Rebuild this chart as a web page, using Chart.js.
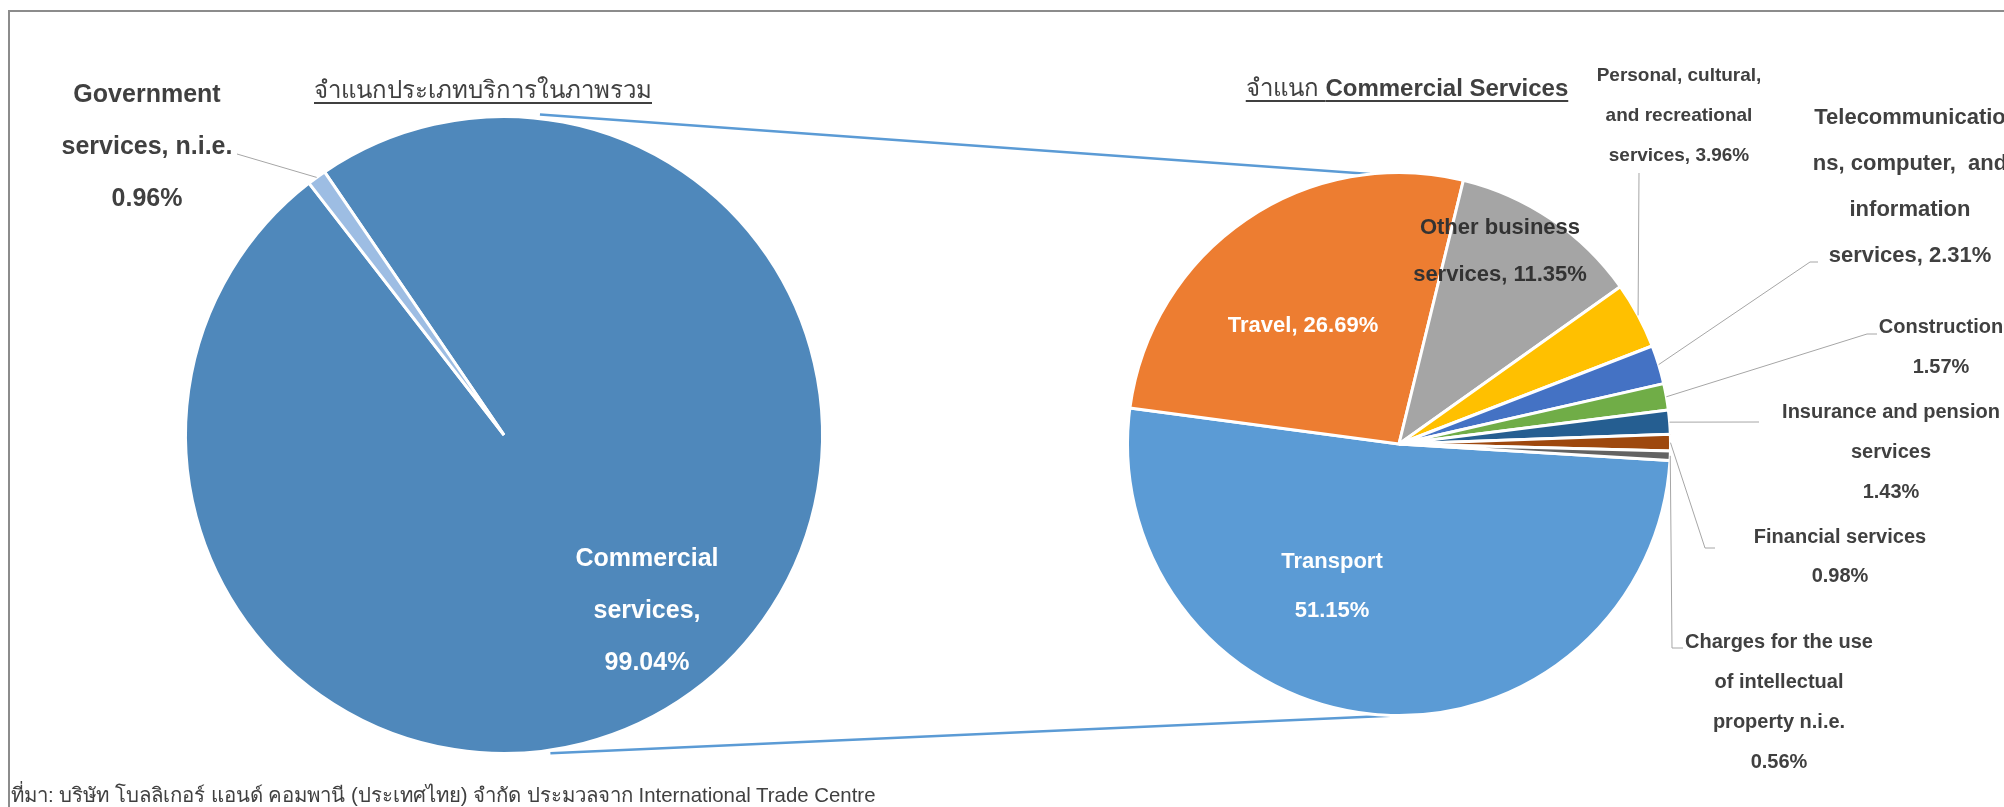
<!DOCTYPE html>
<html>
<head>
<meta charset="utf-8">
<script src="https://cdn.jsdelivr.net/npm/chart.js@4.4.1/dist/chart.umd.min.js"></script>
<style>
  html, body { margin: 0; padding: 0; background: #fff; }
  #wrap { position: relative; width: 2004px; height: 807px; overflow: hidden;
          font-family: "Liberation Sans", Arial, sans-serif; color: #404040; }
  #wrap canvas { position: absolute; left: 0; top: 0; }
  .frame { position: absolute; left: 8px; top: 10px; width: 2100px; height: 900px;
           border-left: 2px solid #8c8c8c; border-top: 2px solid #8c8c8c; }
  .title { position: absolute; transform: translateX(-50%); white-space: nowrap;
           text-decoration: underline; text-underline-offset: 4px; font-size: 24px; line-height: 28px; }
  .source { position: absolute; left: 11px; top: 783px; font-size: 20.4px; line-height: 24px; white-space: nowrap; }
</style>
</head>
<body>
<div id="wrap">
  <div class="frame"></div>
  <canvas id="overall" width="2004" height="807"></canvas>
  <canvas id="commercial" width="2004" height="807"></canvas>
  <div class="title" style="left:483px;top:76px">จำแนกประเภทบริการในภาพรวม</div>
  <div class="title" style="left:1407px;top:74px">จำแนก <b>Commercial Services</b></div>
  <div class="source">ที่มา: บริษัท โบลลิเกอร์ แอนด์ คอมพานี (ประเทศไทย) จำกัด ประมวลจาก International Trade Centre</div>
</div>
<script>
// overall split of services
const overallCats = ['Commercial services', 'Government services, n.i.e.'];
const overallShares = [99.04, 0.96];
const overallColors = ['#4f88bb', '#9dbde3'];

// breakdown of commercial services
const commercialCats = ['Transport', 'Travel', 'Other business services',
  'Personal, cultural, and recreational services',
  'Telecommunications, computer, and information services',
  'Construction', 'Insurance and pension services', 'Financial services',
  'Charges for the use of intellectual property n.i.e.'];
const commercialShares = [51.15, 26.69, 11.35, 3.96, 2.31, 1.57, 1.43, 0.98, 0.56];
const commercialColors = ['#5b9bd5', '#ed7d31', '#a5a5a5', '#ffc000', '#4472c4',
  '#70ad47', '#255e91', '#9e480e', '#636363'];

// draws the text of each slice, plus a leader line when the label sits outside
const sliceLabels = {
  id: 'sliceLabels',
  afterDatasetsDraw(chart, args, opts) {
    const ctx = chart.ctx;
    const arcs = chart.getDatasetMeta(0).data;
    const values = chart.data.datasets[0].data;
    opts.items.forEach((item, i) => {
      const arc = arcs[i];
      const cx = arc.x, cy = arc.y;
      if (item.leader) {
        const mid = (arc.startAngle + arc.endAngle) / 2;
        ctx.save();
        ctx.strokeStyle = '#a6a6a6';
        ctx.lineWidth = 1;
        ctx.beginPath();
        ctx.moveTo(cx + arc.outerRadius * Math.cos(mid), cy + arc.outerRadius * Math.sin(mid));
        item.leader.forEach(p => ctx.lineTo(cx + p[0], cy + p[1]));
        ctx.stroke();
        ctx.restore();
      }
      ctx.save();
      ctx.font = 'bold ' + item.size + 'px "Liberation Sans", Arial, sans-serif';
      ctx.fillStyle = item.color;
      ctx.textAlign = 'center';
      ctx.textBaseline = 'middle';
      item.lines.forEach((line, k) => {
        const txt = line.replace('{v}', values[i].toFixed(2) + '%');
        ctx.fillText(txt, cx + item.at[0], cy + item.at[1] + k * item.lh);
      });
      ctx.restore();
    });
  }
};

// blue lines joining the two pies
const connectors = {
  id: 'connectors',
  beforeDatasetsDraw(chart) {
    const a = overallChart.getDatasetMeta(0).data[0];
    const b = chart.getDatasetMeta(0).data[0];
    const pt = (arc, deg, extra) => {
      const t = (deg - 90) * Math.PI / 180;
      const r = arc.outerRadius + extra;
      return [arc.x + r * Math.cos(t), arc.y + r * Math.sin(t)];
    };
    const ctx = chart.ctx;
    ctx.save();
    ctx.strokeStyle = '#5b9bd5';
    ctx.lineWidth = 2.5;
    [[pt(a, 6.4, 4), pt(b, -6.1, 0)], [pt(a, 171.7, 3), pt(b, 180.6, 0)]].forEach(s => {
      ctx.beginPath();
      ctx.moveTo(s[0][0], s[0][1]);
      ctx.lineTo(s[1][0], s[1][1]);
      ctx.stroke();
    });
    ctx.restore();
  }
};

Chart.defaults.font.family = '"Liberation Sans", Arial, sans-serif';

const overallChart = new Chart(document.getElementById('overall'), {
  type: 'pie',
  data: {
    labels: overallCats,
    datasets: [{ data: overallShares, backgroundColor: overallColors, borderColor: '#fff', borderWidth: 3 }]
  },
  options: {
    responsive: false, animation: false, devicePixelRatio: 1, rotation: 325.7,
    layout: { padding: { left: 184, top: 115, right: 1180, bottom: 52 } },
    plugins: {
      legend: { display: false }, tooltip: { enabled: false },
      sliceLabels: { items: [
        { lines: ['Commercial', 'services,', '{v}'], at: [143, 124], lh: 52, size: 25, color: '#fff' },
        { lines: ['Government', 'services, n.i.e.', '{v}'], at: [-357, -340], lh: 52, size: 25, color: '#404040',
          leader: [[-267, -281]] }
      ] }
    }
  },
  plugins: [sliceLabels]
});

const commercialChart = new Chart(document.getElementById('commercial'), {
  type: 'pie',
  data: {
    labels: commercialCats,
    datasets: [{ data: commercialShares, backgroundColor: commercialColors, borderColor: '#fff', borderWidth: 3 }]
  },
  options: {
    responsive: false, animation: false, devicePixelRatio: 1, rotation: 93.5,
    layout: { padding: { left: 1126, top: 171, right: 332, bottom: 90 } },
    plugins: {
      legend: { display: false }, tooltip: { enabled: false },
      sliceLabels: { items: [
        { lines: ['Transport', '{v}'], at: [-67, 118], lh: 49, size: 22, color: '#fff' },
        { lines: ['Travel, {v}'], at: [-96, -118], lh: 47, size: 22, color: '#fff' },
        { lines: ['Other business', 'services, {v}'], at: [101, -216], lh: 47, size: 22, color: '#333' },
        { lines: ['Personal, cultural,', 'and recreational', 'services, {v}'], at: [280, -368], lh: 40, size: 19,
          color: '#404040', leader: [[240, -271]] },
        { lines: ['Telecommunicatio', 'ns, computer,  and', 'information', 'services, {v}'], at: [511, -326], lh: 46,
          size: 22, color: '#404040', leader: [[411, -182], [419, -182]] },
        { lines: ['Construction', '{v}'], at: [542, -117], lh: 40, size: 20, color: '#404040',
          leader: [[468, -110], [478, -110]] },
        { lines: ['Insurance and pension', 'services', '{v}'], at: [492, -32], lh: 40, size: 20, color: '#404040',
          leader: [[360, -22]] },
        { lines: ['Financial services', '{v}'], at: [441, 93], lh: 39, size: 20, color: '#404040',
          leader: [[306, 104], [316, 104]] },
        { lines: ['Charges for the use', 'of intellectual', 'property n.i.e.', '{v}'], at: [380, 198], lh: 40,
          size: 20, color: '#404040', leader: [[273, 204], [284, 204]] }
      ] }
    }
  },
  plugins: [connectors, sliceLabels]
});
</script>
</body>
</html>
